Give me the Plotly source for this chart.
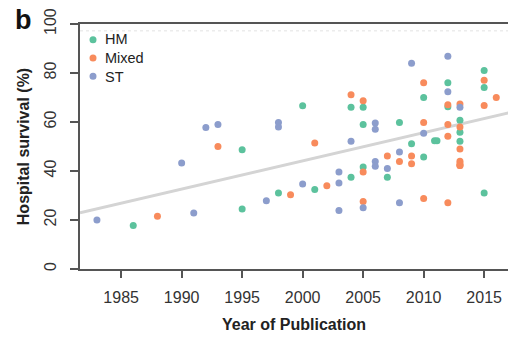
import plotly.graph_objects as go

# ---- data ----
hm_year = [1986, 1995, 1995, 1998, 2000, 2001, 2004, 2004, 2005, 2005, 2005, 2007,
           2008, 2009, 2010, 2010, 2010.9, 2011.1, 2012, 2012, 2013, 2013, 2013,
           2015, 2015, 2015]
hm_surv = [17.8, 48.7, 24.5, 31, 66.6, 32.4, 66, 37.4, 66, 59, 41.6, 37.5,
           59.8, 51.1, 70, 45.7, 52.3, 52.3, 76, 66.2, 60.7, 55.8, 52.1,
           81, 74.1, 31]

mixed_year = [1988, 1993, 1999, 2001, 2002, 2004, 2005, 2005, 2005, 2007, 2008,
              2009, 2009, 2010, 2010, 2010, 2012, 2012, 2012, 2012, 2013, 2013,
              2013, 2013, 2013, 2013, 2013, 2015, 2015, 2016]
mixed_surv = [21.5, 50, 30.3, 51.4, 34, 71.1, 68.7, 39.6, 27.6, 46.1, 43.9,
              46.1, 43, 76, 59.8, 28.8, 67, 59, 54.2, 27, 67.3, 58,
              49, 44, 43, 42.2, 42.2, 77, 66.7, 70]

st_year = [1983, 1990, 1991, 1992, 1993, 1997, 1998, 1998, 2000, 2003, 2003, 2003,
           2004, 2005, 2006, 2006, 2006, 2006, 2007, 2008, 2008, 2009, 2010,
           2012, 2012, 2013]
st_surv = [20, 43.3, 22.9, 57.8, 59, 27.9, 59.8, 58, 34.7, 39.6, 35.1, 23.9,
           52.1, 25, 59.6, 57, 43.9, 41.9, 41, 47.8, 27, 84, 55.4,
           86.8, 72.3, 66]

trend_year = [1981.6, 2017.0]
trend_surv = [22.9, 63.7]

x_ticks = [1985, 1990, 1995, 2000, 2005, 2010, 2015]
y_ticks = [0, 20, 40, 60, 80, 100]

legend_labels = ["HM", "Mixed", "ST"]
legend_colors = ["#5cc29d", "#f88b5c", "#8c9dcc"]

FONT = "Liberation Sans, Arial, sans-serif"

fig = go.Figure()
fig.add_trace(go.Scatter(x=trend_year, y=trend_surv, mode="lines",
                         line=dict(color="#d4d4d4", width=3),
                         showlegend=False, hoverinfo="skip"))
for name, xs, ys, col in [("HM", hm_year, hm_surv, legend_colors[0]),
                          ("Mixed", mixed_year, mixed_surv, legend_colors[1]),
                          ("ST", st_year, st_surv, legend_colors[2])]:
    fig.add_trace(go.Scatter(x=xs, y=ys, mode="markers", name=name,
                             marker=dict(color=col, size=7), showlegend=False))

# faint dotted line under the top frame
fig.add_shape(type="line", xref="paper", yref="y", x0=0, x1=1, y0=97.2, y1=97.2,
              line=dict(color="#e2e2e2", width=1, dash="dot"), layer="below")

# compact legend: key dots + one multi-line label block
leg_y = [0.9355, 0.8612, 0.7869]
for col, ly in zip(legend_colors, leg_y):
    fig.add_shape(type="circle", xref="paper", yref="paper",
                  xsizemode="pixel", ysizemode="pixel",
                  xanchor=0.0304, yanchor=ly, x0=-3.5, x1=3.5, y0=-3.5, y1=3.5,
                  fillcolor=col, line=dict(width=0))

annotations = [
    dict(text="<br>".join(legend_labels), xref="paper", yref="paper", x=0.056, y=leg_y[1],
         xanchor="left", yanchor="middle", align="left", showarrow=False, borderpad=0,
         font=dict(size=14.5, color="#222", family=FONT)),
    dict(text="<b>b</b>", xref="paper", yref="paper", x=-0.131, y=1.015,
         xanchor="center", yanchor="middle", showarrow=False,
         font=dict(size=27, color="#111", family=FONT)),
]

fig.update_layout(
    width=508, height=340,
    margin=dict(l=80, r=0, t=24, b=71, autoexpand=False),
    plot_bgcolor="white", paper_bgcolor="white",
    font=dict(family=FONT, color="#333333", size=16),
    showlegend=False,
    xaxis=dict(range=[1981.6, 2016.97], tickvals=x_ticks, ticktext=[str(v) for v in x_ticks],
               showgrid=False, zeroline=False, showline=True, linecolor="#555",
               linewidth=2, mirror=True, ticks="outside", ticklen=7, tickwidth=2,
               tickcolor="#555", ticklabelstandoff=6,
               tickfont=dict(size=16, color="#333"),
               title=dict(text="<b>Year of Publication</b>", standoff=14,
                          font=dict(size=16, color="#222"))),
    yaxis=dict(range=[0, 100], tickvals=y_ticks, ticktext=[str(v) for v in y_ticks],
               showgrid=False, zeroline=False, showline=True, linecolor="#555",
               linewidth=2, ticks="outside", ticklen=8, tickwidth=2, tickcolor="#555",
               tickangle=-90, ticklabelstandoff=8,
               tickfont=dict(size=16, color="#333"),
               title=dict(text="<b>Hospital survival (%)</b>", standoff=8,
                          font=dict(size=16, color="#222"))),
    annotations=annotations,
)

fig.write_html("out.html")
